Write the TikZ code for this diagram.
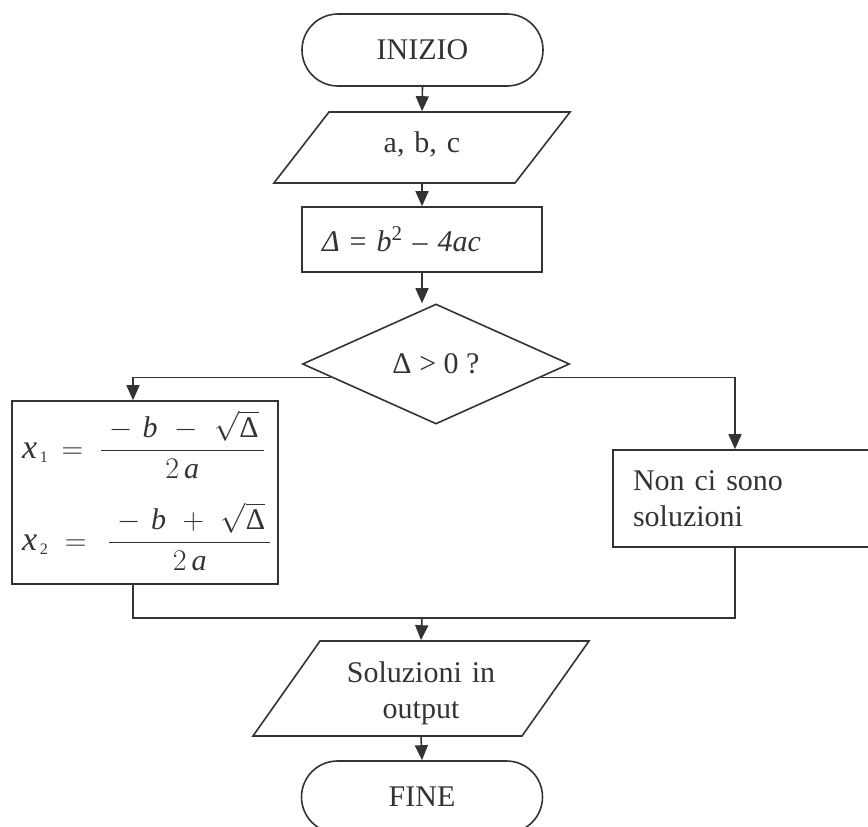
\RequirePackage{fix-cm}
\documentclass[tikz,border=0pt]{standalone}
\usepackage{fontspec}
\setmainfont{Liberation Serif}
\usepackage{amsmath}
\usetikzlibrary{arrows.meta,shapes.geometric,shapes.misc,calc}
\definecolor{ink}{HTML}{333333}
\newcommand{\rootvar}[1]{\mbox{\fontsize{34}{34}\selectfont\itshape x}_{\mbox{\fontsize{16}{16}\selectfont\,#1}}}

\begin{document}
\begin{tikzpicture}
	[x=1pt, y=-1pt, color=ink, line width=1.6pt, inner sep=0pt,
	font=\fontsize{30}{36}\selectfont,
	terminal/.style	= {rounded rectangle, draw, minimum width=241pt, minimum height=72pt},
	inout/.style	= {trapezium, draw, align=center},
	process/.style	= {rectangle, draw},
	decision/.style	= {diamond, draw, minimum width=267pt, minimum height=120pt},
	paths/.style	= {-{Triangle[width=13pt, length=15pt]}}]

	\useasboundingbox (0,0) rectangle (868,827);
	\clip (0,0) rectangle (868,827);

	\node at (422.5, 50)	[terminal]	(start)	{INIZIO};
	\node at (422, 147.5)	[inout, trapezium left angle=52.2, trapezium right angle=127.8,
		text width=186pt, text height=40pt, text depth=31pt]	(input)	{a, b, c};
	\node at (422, 239.5)	[process, minimum width=240pt, minimum height=65pt,
		text width=200pt, align=left]	(calc)	{{\itshape Δ} = {\itshape b}\textsuperscript{2} – {\itshape 4ac}};
	\node at (436, 364)	[decision]	(test)	{Δ > 0 ?};

	\node at (145, 492.5)	[process, minimum width=266pt, text width=246pt, align=left,
		font=\fontsize{30}{92}\selectfont, text height=57pt, text depth=126pt]	(roots)
		{\makebox[246pt][l]{$\rootvar{1}\,=\;\dfrac{\;-\ \mathit{b}\ -\ \sqrt{\mbox{Δ}}\,}{2\,\mathit{a}}$}\\
		 \makebox[246pt][l]{$\rootvar{2}\;=\;\,\dfrac{\;-\ \mathit{b}\ +\ \sqrt{\mbox{Δ}}\,}{2\,\mathit{a}}$}};
	\node at (756.5, 498.5)	[process, minimum width=287pt, text width=247pt, align=left,
		text height=40pt, text depth=57pt]	(none)	{Non ci sono\\soluzioni};

	\node at (421, 688.5)	[inout, trapezium left angle=54.8, trapezium right angle=125.2,
		text width=202pt, text height=41pt, text depth=54pt]	(output)	{Soluzioni in\\output};
	\node at (422, 797)	[terminal]	(finish)	{FINE};

	\coordinate (tl) at ($(test.west)!0.22!(test.south)$);
	\coordinate (tr) at ($(test.east)!0.22!(test.south)$);
	\coordinate (merge) at (422, 618);

	\draw [paths] (start.south) -- (input.north);
	\draw [paths] (input.south) -- (calc.north);
	\draw [paths] (calc.south) -- (calc.south |- test.north);
	\draw [paths] (tl) -| ([xshift=-12pt]roots.north);
	\draw [paths] (tr) -| ([xshift=-21.5pt]none.north);
	\draw ([xshift=-12pt]roots.south) |- (merge) -| ([xshift=-21.5pt]none.south);
	\draw [paths] (merge) -- (output.north);
	\draw [paths] (output.south) -- (finish.north);
\end{tikzpicture}
\end{document}
